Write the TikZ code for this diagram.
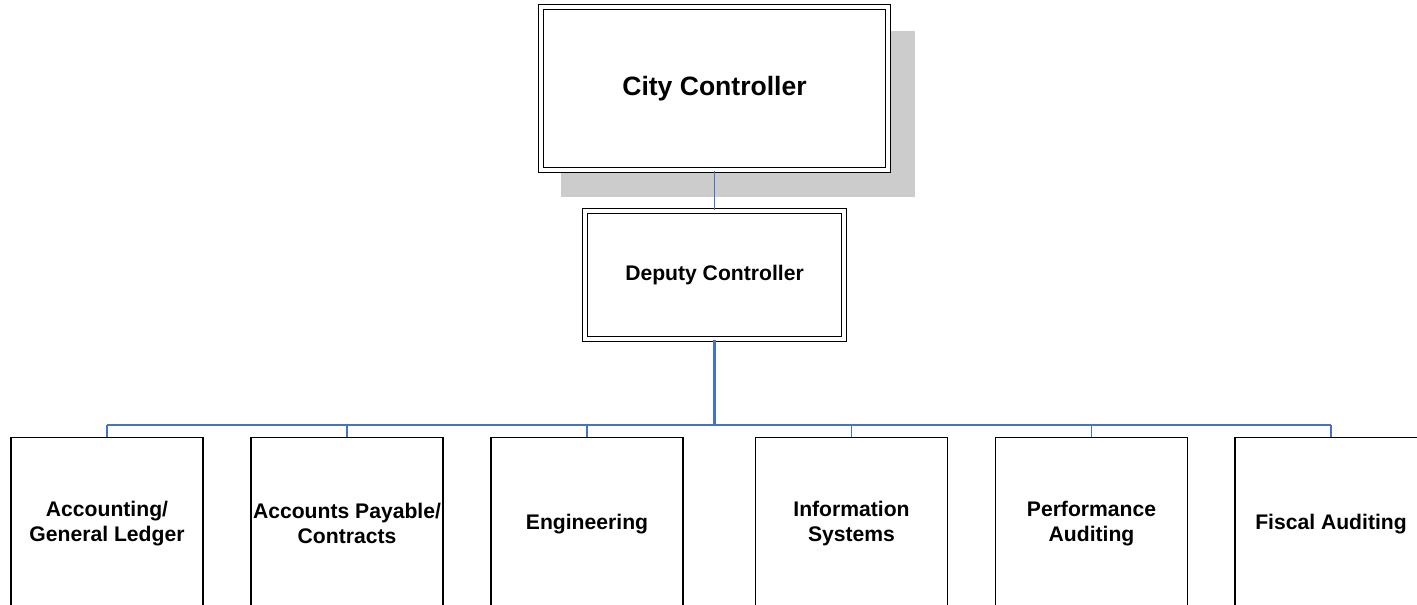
\documentclass[tikz,border=0pt]{standalone}
\usepackage{fontspec}
\setmainfont{Liberation Sans}
\usetikzlibrary{shadows}
\definecolor{linkblue}{RGB}{68,114,196}
\definecolor{shadowgray}{RGB}{204,204,204}

\begin{document}
\begin{tikzpicture}[x=0.75pt,y=-0.75pt,
  headbox/.style={draw=black,line width=0.9pt,double=white,double distance=2.6pt,fill=white,
    align=center,font=\bfseries},
  unitbox/.style={draw=black,line width=1.1pt,fill=white,anchor=north,
    minimum width=144pt,minimum height=129pt,inner sep=0pt,align=center,
    font=\fontsize{15.85}{18.75}\selectfont\bfseries},
  link/.style={draw=linkblue,line width=1.1pt},
  trunk/.style={draw=linkblue,line width=1.6pt}]

\useasboundingbox (0,0) rectangle (1417,604);
\clip (0,0) rectangle (1417,604);

% top of the chart
\node[headbox,minimum width=260.25pt,minimum height=122.25pt,
  font=\fontsize{19.9}{24}\selectfont\bfseries,
  drop shadow={shadow xshift=17.6pt,shadow yshift=-18.6pt,shadow scale=1.02,
    fill=shadowgray,opacity=1}] (city) at (714.5,88.5) {\raisebox{-2pt}{City Controller}};
\node[headbox,minimum width=194.25pt,minimum height=96pt,
  font=\fontsize{15.85}{18.75}\selectfont\bfseries] (deputy) at (714.5,275) {\raisebox{-1.5pt}{Deputy Controller}};

% units
\node[unitbox] (acct) at (107,437) {Accounting/\\General Ledger};
\node[unitbox] (payable) at (347,437) {Accounts Payable/\\Contracts};
\node[unitbox] (eng) at (587,437) {Engineering};
\node[unitbox] (infosys) at (851.5,437) {Information\\Systems};
\node[unitbox] (perf) at (1091.5,437) {Performance\\Auditing};
\node[unitbox] (fiscal) at (1331,437) {Fiscal Auditing};

\coordinate (bus) at (714.5,425);

% connectors
\draw[link,line width=1.4pt] (city.south) -- (deputy.north);
\draw[trunk,line width=1.9pt] (deputy.south) -- (bus);
\draw[trunk] (acct.north |- bus) -- (fiscal.north |- bus);
\foreach\n in {acct,payable,eng,infosys,perf,fiscal}
\draw[link] (\n.north |- bus) -- (\n.north);

\end{tikzpicture}
\end{document}
